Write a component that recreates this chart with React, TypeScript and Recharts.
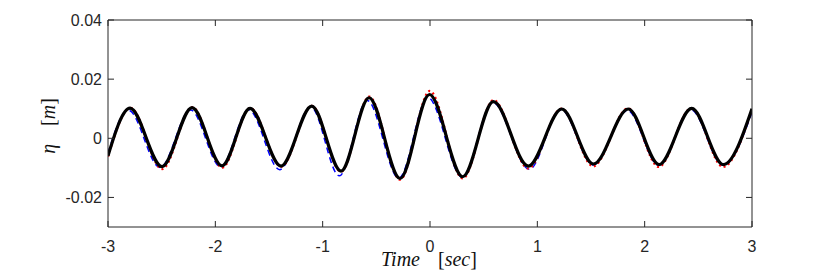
import React from "react";
import { Line, LineChart, XAxis, YAxis } from "recharts";

// extrema (t in sec, eta in m)
const blackT = [-3, -2.795, -2.497, -2.217, -1.938, -1.677, -1.388, -1.102, -0.829, -0.568, -0.279, -0.005, 0.305, 0.59, 0.916, 1.227, 1.522, 1.848, 2.134, 2.438, 2.733, 3];
const blackV = [-0.0059, 0.0102, -0.0096, 0.0104, -0.0093, 0.0101, -0.0094, 0.0109, -0.0111, 0.0137, -0.0136, 0.0148, -0.013, 0.0124, -0.0094, 0.0099, -0.0087, 0.0099, -0.0089, 0.0101, -0.0089, 0.01];

const redT = [-3, -2.79, -2.495, -2.215, -1.935, -1.675, -1.385, -1.1, -0.83, -0.565, -0.278, -0.002, 0.305, 0.592, 0.915, 1.225, 1.52, 1.845, 2.13, 2.435, 2.73, 3];
const redV = [-0.0062, 0.0103, -0.0104, 0.0105, -0.0099, 0.0102, -0.0096, 0.011, -0.0113, 0.0141, -0.014, 0.016, -0.0136, 0.0129, -0.0102, 0.01, -0.0095, 0.0101, -0.0097, 0.0102, -0.0097, 0.0098];

const blueT = [-3, -2.81, -2.515, -2.23, -1.95, -1.69, -1.4, -1.11, -0.845, -0.585, -0.29, -0.02, 0.3, 0.585, 0.925, 1.22, 1.52, 1.84, 2.13, 2.43, 2.73, 3];
const blueV = [-0.005, 0.0095, -0.0099, 0.0096, -0.0097, 0.0097, -0.0106, 0.0106, -0.0127, 0.0128, -0.0135, 0.0138, -0.0131, 0.0121, -0.0105, 0.0097, -0.009, 0.0094, -0.0091, 0.0097, -0.0091, 0.0088];

const xTicks = [-3, -2, -1, 0, 1, 2, 3];
const yTicks = [-0.02, 0, 0.02, 0.04];

const black = blackT.map((t, i) => ({ t, v: blackV[i] }));
const red = redT.map((t, i) => ({ t, v: redV[i] }));
const blue = blueT.map((t, i) => ({ t, v: blueV[i] }));

const AX = "#262626";
const FONT = "'Liberation Sans', Arial, sans-serif";
const SERIF = "'Liberation Serif', 'Times New Roman', serif";

const fmtY = (v: number) => (Math.abs(v) < 1e-9 ? "0" : v.toFixed(2));

function BottomTick(props: any) {
  const { x, y, payload } = props;
  return (
    <g>
      <line x1={x} x2={x} y1={y} y2={y - 6} stroke={AX} />
      <text x={x} y={y + 25} textAnchor="middle" fontFamily={FONT} fontSize={16} fill={AX}>
        {payload.value}
      </text>
    </g>
  );
}

function TopTick(props: any) {
  const { x, y } = props;
  return <line x1={x} x2={x} y1={y} y2={y + 6} stroke={AX} />;
}

function LeftTick(props: any) {
  const { x, y, payload } = props;
  return (
    <g>
      <line x1={x} x2={x + 6} y1={y} y2={y} stroke={AX} />
      <text x={x - 6} y={y} dy="0.35em" textAnchor="end" fontFamily={FONT} fontSize={16} fill={AX}>
        {fmtY(payload.value)}
      </text>
    </g>
  );
}

function RightTick(props: any) {
  const { x, y } = props;
  return <line x1={x} x2={x - 6} y1={y} y2={y} stroke={AX} />;
}

export default function App() {
  return (
    <div style={{ position: "absolute", left: 0, top: 0, width: 830, height: 277, background: "#fff" }}>
      <LineChart width={830} height={277} margin={{ top: 19, right: 77, bottom: 49, left: 107 }}>
        <XAxis
          xAxisId="b"
          type="number"
          dataKey="t"
          domain={[-3, 3]}
          ticks={xTicks}
          allowDataOverflow
          height={1}
          tickSize={0}
          tickMargin={0}
          tickLine={false}
          axisLine={{ stroke: AX }}
          tick={<BottomTick />}
        />
        <XAxis
          xAxisId="t"
          orientation="top"
          type="number"
          dataKey="t"
          domain={[-3, 3]}
          ticks={xTicks}
          allowDataOverflow
          height={1}
          tickSize={0}
          tickMargin={0}
          tickLine={false}
          axisLine={{ stroke: AX }}
          tick={<TopTick />}
        />
        <YAxis
          yAxisId="l"
          type="number"
          domain={[-0.03, 0.04]}
          ticks={yTicks}
          allowDataOverflow
          width={1}
          tickSize={0}
          tickMargin={0}
          tickLine={false}
          axisLine={{ stroke: AX }}
          tick={<LeftTick />}
        />
        <YAxis
          yAxisId="r"
          orientation="right"
          type="number"
          domain={[-0.03, 0.04]}
          ticks={yTicks}
          allowDataOverflow
          width={1}
          tickSize={0}
          tickMargin={0}
          tickLine={false}
          axisLine={{ stroke: AX }}
          tick={<RightTick />}
        />
        <Line xAxisId="b" yAxisId="l" data={blue} dataKey="v" type="monotone" stroke="#0000ff" strokeWidth={1.5} strokeDasharray="6 4" dot={false} activeDot={false} isAnimationActive={false} />
        <Line xAxisId="b" yAxisId="l" data={red} dataKey="v" type="monotone" stroke="#ff0000" strokeWidth={2.2} strokeDasharray="2 3" dot={false} activeDot={false} isAnimationActive={false} />
        <Line xAxisId="b" yAxisId="l" data={black} dataKey="v" type="monotone" stroke="#000000" strokeWidth={3.2} dot={false} activeDot={false} isAnimationActive={false} />
        <text x={429} y={266} textAnchor="middle" fontFamily={SERIF} fontSize={20} fill="#111">
          <tspan fontStyle="italic">Time</tspan>
          <tspan dx={18}>[</tspan>
          <tspan fontStyle="italic">sec</tspan>
          <tspan>]</tspan>
        </text>
        <text x={55} y={126} textAnchor="middle" fontFamily={SERIF} fontSize={20} fill="#111" transform="rotate(-90 55 126)">
          <tspan fontStyle="italic">η</tspan>
          <tspan dx={18}>[</tspan>
          <tspan fontStyle="italic">m</tspan>
          <tspan>]</tspan>
        </text>
      </LineChart>
    </div>
  );
}
